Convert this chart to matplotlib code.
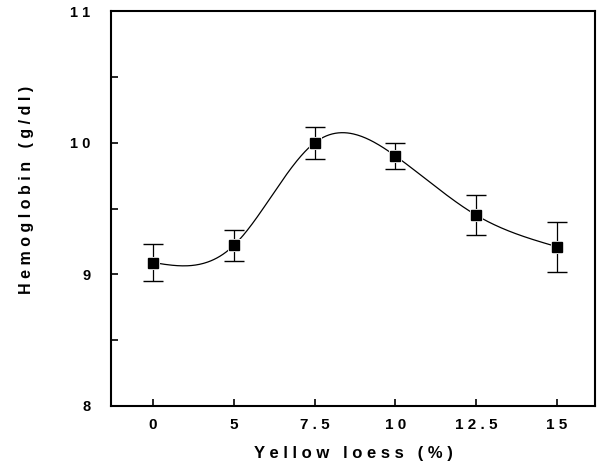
import numpy as np
import matplotlib
matplotlib.use("Agg")
import matplotlib.pyplot as plt

categories = ["0", "5", "7.5", "10", "12.5", "15"]
hemoglobin = [9.09, 9.22, 10.0, 9.90, 9.45, 9.21]
errors = [0.14, 0.12, 0.12, 0.10, 0.15, 0.19]
y_ticks = [8, 9, 10, 11]


def spaced(s):
    return " ".join(s)


def natural_spline(x, y, n=400):
    x = np.asarray(x, float)
    y = np.asarray(y, float)
    k = len(x)
    h = np.diff(x)
    A = np.zeros((k, k))
    b = np.zeros(k)
    A[0, 0] = A[-1, -1] = 1
    for i in range(1, k - 1):
        A[i, i - 1] = h[i - 1]
        A[i, i] = 2 * (h[i - 1] + h[i])
        A[i, i + 1] = h[i]
        b[i] = 3 * ((y[i + 1] - y[i]) / h[i] - (y[i] - y[i - 1]) / h[i - 1])
    c = np.linalg.solve(A, b)
    xs = np.linspace(x[0], x[-1], n)
    ys = np.empty_like(xs)
    for j, xv in enumerate(xs):
        i = min(np.searchsorted(x, xv, side="right") - 1, k - 2)
        dx = xv - x[i]
        bb = (y[i + 1] - y[i]) / h[i] - h[i] * (2 * c[i] + c[i + 1]) / 3
        d = (c[i + 1] - c[i]) / (3 * h[i])
        ys[j] = y[i] + bb * dx + c[i] * dx ** 2 + d * dx ** 3
    return xs, ys


plt.rcParams["font.family"] = ["Liberation Sans", "DejaVu Sans"]
plt.rcParams["font.weight"] = "bold"

fig = plt.figure(figsize=(6.01, 4.66), dpi=100)
ax = fig.add_axes([0.1847, 0.1288, 0.8053, 0.8472])

pos = np.arange(len(categories))
xs, ys = natural_spline(pos, hemoglobin)
ax.plot(xs, ys, color="black", lw=0.9, zorder=2)
ax.errorbar(pos, hemoglobin, yerr=errors, fmt="none", ecolor="black",
            elinewidth=0.9, capsize=7, capthick=1.0, zorder=3)
ax.plot(pos, hemoglobin, "s", color="black", markersize=7.5,
        markeredgecolor="white", markeredgewidth=2.2, zorder=4)
ax.plot(pos, hemoglobin, "s", color="black", markersize=7, zorder=5)

ax.set_xlim(-0.52, 5.47)
ax.set_ylim(8, 11)
ax.set_xticks(pos)
ax.set_xticklabels([spaced(c) for c in categories], fontsize=11, fontweight="bold")
ax.set_yticks(y_ticks)
ax.set_yticklabels([spaced(str(t)) for t in y_ticks], fontsize=10.5, fontweight="bold")
ax.set_yticks([8.5, 9.5, 10.5], minor=True)
ax.tick_params(axis="both", which="both", direction="in", length=5, width=1.2)
ax.tick_params(axis="y", which="major", pad=15)
ax.tick_params(axis="x", which="major", pad=9)

for s in ax.spines.values():
    s.set_linewidth(1.5)

ax.set_xlabel(spaced("Yellow loess (%)"), fontsize=12, fontweight="bold", labelpad=10)
ax.set_ylabel(spaced("Hemoglobin (g/dl)"), fontsize=11.5, fontweight="bold")
ax.yaxis.set_label_coords(-0.16, 0.547)

fig.savefig("out.png", dpi=100)
